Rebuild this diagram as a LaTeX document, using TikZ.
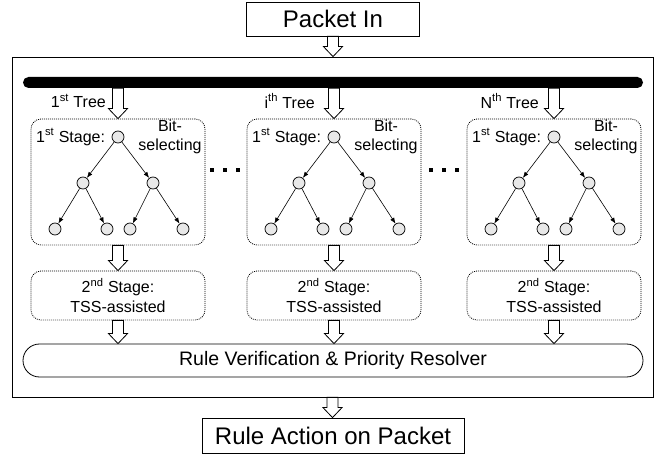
\documentclass[tikz,border=0pt]{standalone}
\usepackage{fontspec}
\setmainfont{Liberation Sans}
\usetikzlibrary{arrows.meta,calc}
\begin{document}
\begin{tikzpicture}[x=1pt,y=-1pt,
  every node/.style={font=\fontsize{16}{19.5}\selectfont},
  plainbox/.style={draw, line width=0.8pt, font=\fontsize{24}{28}\selectfont, inner sep=0pt},
  stagebox/.style={draw, dash pattern=on 0.9pt off 1.1pt, line width=0.8pt, rounded corners=10pt, minimum width=174pt, inner sep=0pt},
  tnode/.style={circle, draw, fill=black!9, minimum size=12pt, inner sep=0pt, line width=0.7pt},
  tedge/.style={-{Latex[length=6pt,width=4.5pt]}, line width=0.6pt},
  blockarrow/.style={draw, fill=white, line width=0.8pt,
    to path={let \p1=(\tikztostart), \p2=(\tikztotarget) in
      (\x1-5.5pt,\y1) -- (\x1-5.5pt,\y2+10pt) -- (\x1-9.5pt,\y2+10pt) -- (\x1,\y2)
      -- (\x1+9.5pt,\y2+10pt) -- (\x1+5.5pt,\y2+10pt) -- (\x1+5.5pt,\y1) -- cycle}},
]
\useasboundingbox (0,0) rectangle (659,454);

\node[plainbox, minimum width=173pt, minimum height=34pt] (pin) at (333,19) {Packet In};
\node[draw, line width=0.8pt, minimum width=641pt, minimum height=340pt, inner sep=0pt] (outer) at (332.5,227) {};
\node[fill=black, rounded corners=5.5pt, minimum width=620pt, minimum height=11pt, inner sep=0pt] (bar) at (333,82.5) {};

\node[anchor=east, inner sep=0pt] (tl1) at (106,101) {1\textsuperscript{st} Tree};
\node[anchor=east, inner sep=0pt] (tl2) at (315,101) {i\textsuperscript{th} Tree};
\node[anchor=east, inner sep=0pt] (tl3) at (539,101) {N\textsuperscript{th} Tree};

\node[draw, line width=0.8pt, rounded corners=16.5pt, minimum width=620pt, minimum height=33pt, inner sep=0pt, font=\fontsize{19.5}{23}\selectfont] (res) at (333,360.5) {Rule Verification \& Priority Resolver};

\node[plainbox, minimum width=262pt, minimum height=35pt] (out) at (333,435.5) {Rule Action on Packet};

\foreach \c/\k in {118/1,334/2,554/3}{
  \node[stagebox, minimum height=126pt] (sa\k) at (\c,182) {};
  \node[anchor=west, inner sep=0pt] (st\k) at (\c-82,137) {1\textsuperscript{st} Stage:};
  \node[align=center, inner sep=0pt] (bs\k) at (\c+52,137) {Bit-\\selecting};
  \node[tnode] (t\k-0) at (\c,137) {};
  \node[tnode] (t\k-1) at (\c-35,183) {};
  \node[tnode] (t\k-2) at (\c+35,183) {};
  \node[tnode] (t\k-3) at (\c-63,229) {};
  \node[tnode] (t\k-4) at (\c-11,229) {};
  \node[tnode] (t\k-5) at (\c+12,229) {};
  \node[tnode] (t\k-6) at (\c+65,229) {};
  \draw[tedge] (t\k-0) -- (t\k-1);
  \draw[tedge] (t\k-0) -- (t\k-2);
  \draw[tedge] (t\k-1) -- (t\k-3);
  \draw[tedge] (t\k-1) -- (t\k-4);
  \draw[tedge] (t\k-2) -- (t\k-5);
  \draw[tedge] (t\k-2) -- (t\k-6);
  \node[stagebox, minimum height=49pt, align=center] (sb\k) at (\c,295.5) {2\textsuperscript{nd} Stage:\\TSS-assisted};
  \draw[blockarrow] (bar.south -| sa\k.north) to (sa\k.north);
  \draw[blockarrow] (sa\k.south) to (sb\k.north);
  \draw[blockarrow] (sb\k.south) to (res.north -| sb\k.south);
}

\draw[blockarrow] (pin.south) to (outer.north);
\draw[blockarrow] (outer.south) to (out.north);

\foreach \d in {212,225,238,431,444,457}{
  \fill (\d-2,168) rectangle ++(4,4);
}
\end{tikzpicture}
\end{document}
